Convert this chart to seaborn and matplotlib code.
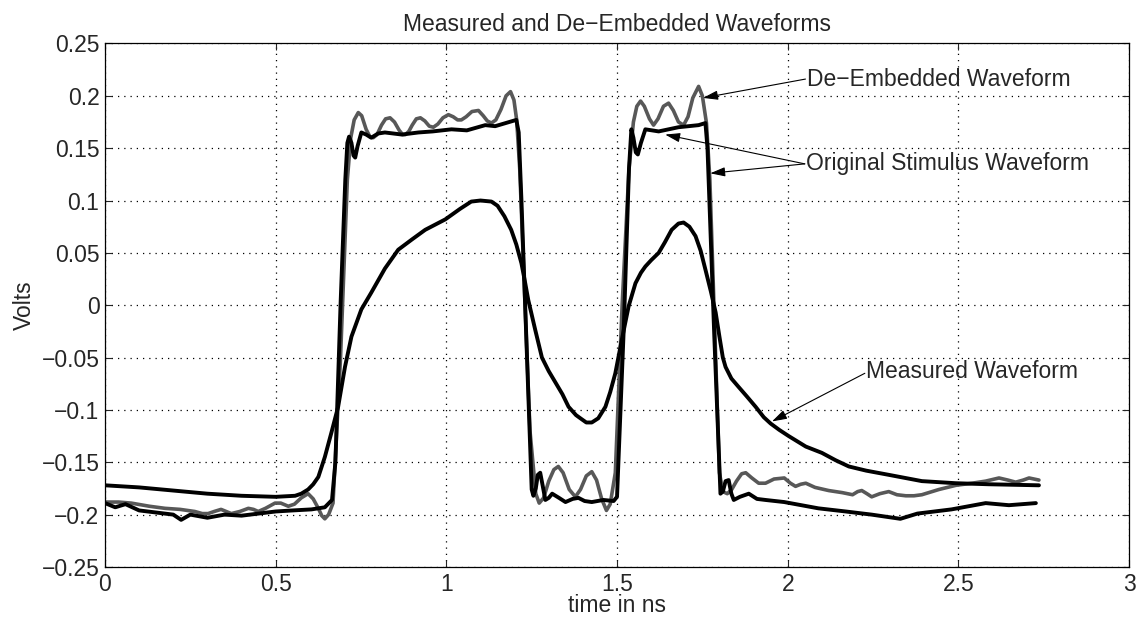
import numpy as np
import pandas as pd
import matplotlib
matplotlib.use("Agg")
import matplotlib.pyplot as plt
import seaborn as sns

# ---- data (time in ns, volts) ----
t_meas = [0.0, 0.1, 0.2, 0.3, 0.4, 0.5, 0.557, 0.575, 0.595, 0.61, 0.625, 0.644,
          0.663, 0.683, 0.703, 0.722, 0.751, 0.78, 0.82, 0.859, 0.90, 0.938,
          0.997, 1.04, 1.073, 1.10, 1.132, 1.15, 1.17, 1.19, 1.205, 1.22, 1.23,
          1.24, 1.26, 1.28, 1.30, 1.32, 1.34, 1.358, 1.38, 1.397, 1.41, 1.426,
          1.445, 1.466, 1.48, 1.495, 1.514, 1.534, 1.554, 1.57, 1.583, 1.60,
          1.622, 1.64, 1.66, 1.68, 1.695, 1.712, 1.73, 1.745, 1.759, 1.775,
          1.789, 1.80, 1.81, 1.818, 1.835, 1.856, 1.88, 1.906, 1.93, 1.95,
          1.975, 2.003, 2.053, 2.1, 2.14, 2.179, 2.23, 2.296, 2.393, 2.492,
          2.589, 2.736]
v_meas = [-0.172, -0.174, -0.177, -0.180, -0.182, -0.183, -0.182, -0.180, -0.176,
          -0.171, -0.164, -0.145, -0.122, -0.097, -0.059, -0.030, -0.004, 0.012,
          0.035, 0.053, 0.063, 0.072, 0.082, 0.092, 0.099, 0.100, 0.099, 0.095,
          0.085, 0.072, 0.058, 0.040, 0.023, 0.005, -0.023, -0.050, -0.063,
          -0.074, -0.085, -0.097, -0.105, -0.109, -0.112, -0.112, -0.108, -0.097,
          -0.083, -0.065, -0.033, -0.001, 0.021, 0.031, 0.037, 0.043, 0.050,
          0.060, 0.072, 0.078, 0.079, 0.075, 0.066, 0.052, 0.034, 0.013, -0.007,
          -0.030, -0.050, -0.059, -0.070, -0.078, -0.087, -0.097, -0.107, -0.113,
          -0.119, -0.125, -0.135, -0.141, -0.148, -0.154, -0.158, -0.162, -0.168,
          -0.170, -0.171, -0.172]

t_stim = [0.0, 0.03, 0.06, 0.1, 0.15, 0.2, 0.223, 0.25, 0.3, 0.35, 0.4, 0.45, 0.5,
          0.55, 0.605, 0.644, 0.665, 0.675, 0.69, 0.704, 0.71, 0.715, 0.722, 0.728,
          0.733, 0.74, 0.751, 0.765, 0.78, 0.80, 0.82, 0.87, 0.918, 0.96, 1.015,
          1.06, 1.114, 1.143, 1.205, 1.212, 1.22, 1.25, 1.255, 1.262, 1.268, 1.275,
          1.282, 1.29, 1.30, 1.31, 1.33, 1.349, 1.37, 1.387, 1.405, 1.426, 1.46,
          1.49, 1.50, 1.52, 1.535, 1.542, 1.548, 1.555, 1.561, 1.57, 1.583, 1.622,
          1.68, 1.739, 1.759, 1.765, 1.785, 1.803, 1.81, 1.818, 1.827, 1.835,
          1.842, 1.86, 1.886, 1.91, 1.935, 1.99, 2.09, 2.17, 2.246, 2.33, 2.38,
          2.48, 2.58, 2.648, 2.727]
v_stim = [-0.189, -0.193, -0.190, -0.196, -0.198, -0.200, -0.205, -0.200, -0.203,
          -0.200, -0.201, -0.199, -0.197, -0.196, -0.195, -0.193, -0.186, -0.150,
          0.000, 0.120, 0.155, 0.161, 0.155, 0.143, 0.141, 0.152, 0.165, 0.163,
          0.160, 0.164, 0.165, 0.163, 0.165, 0.166, 0.168, 0.167, 0.172, 0.171,
          0.177, 0.165, 0.100, -0.176, -0.182, -0.175, -0.162, -0.160, -0.172,
          -0.186, -0.184, -0.180, -0.184, -0.188, -0.185, -0.184, -0.187, -0.188,
          -0.186, -0.187, -0.183, -0.020, 0.130, 0.168, 0.160, 0.146, 0.144,
          0.155, 0.168, 0.166, 0.170, 0.172, 0.174, 0.150, -0.030, -0.180, -0.178,
          -0.168, -0.167, -0.180, -0.186, -0.183, -0.180, -0.185, -0.186, -0.188,
          -0.194, -0.197, -0.200, -0.204, -0.199, -0.195, -0.189, -0.191, -0.189]

t_deemb = [0.0, 0.04, 0.077, 0.13, 0.176, 0.22, 0.263, 0.285, 0.302, 0.32, 0.34,
           0.355, 0.37, 0.395, 0.42, 0.435, 0.449, 0.47, 0.498, 0.515, 0.537,
           0.555, 0.575, 0.595, 0.61, 0.625, 0.635, 0.644, 0.655, 0.668, 0.69,
           0.71, 0.72, 0.73, 0.742, 0.752, 0.765, 0.776, 0.786, 0.797, 0.81,
           0.822, 0.835, 0.848, 0.862, 0.872, 0.88, 0.89, 0.90, 0.912, 0.924,
           0.937, 0.95, 0.962, 0.975, 0.99, 1.006, 1.02, 1.033, 1.044, 1.058,
           1.075, 1.094, 1.108, 1.12, 1.132, 1.145, 1.16, 1.175, 1.188, 1.198,
           1.206, 1.215, 1.245, 1.262, 1.272, 1.285, 1.30, 1.315, 1.328, 1.342,
           1.36, 1.378, 1.393, 1.41, 1.426, 1.44, 1.455, 1.469, 1.48, 1.495,
           1.515, 1.535, 1.548, 1.558, 1.569, 1.58, 1.595, 1.607, 1.62, 1.636,
           1.651, 1.665, 1.68, 1.695, 1.708, 1.722, 1.739, 1.75, 1.762, 1.772,
           1.80, 1.81, 1.823, 1.836, 1.85, 1.865, 1.877, 1.895, 1.915, 1.935,
           1.96, 1.99, 2.008, 2.023, 2.038, 2.053, 2.08, 2.12, 2.16, 2.19, 2.205,
           2.217, 2.232, 2.246, 2.27, 2.296, 2.32, 2.346, 2.37, 2.393, 2.443,
           2.493, 2.54, 2.58, 2.619, 2.645, 2.668, 2.69, 2.707, 2.736]
v_deemb = [-0.188, -0.188, -0.189, -0.192, -0.194, -0.195, -0.197, -0.199, -0.199,
           -0.197, -0.195, -0.197, -0.199, -0.197, -0.194, -0.195, -0.197, -0.194,
           -0.189, -0.189, -0.192, -0.190, -0.184, -0.180, -0.185, -0.194, -0.201,
           -0.204, -0.200, -0.189, -0.050, 0.120, 0.160, 0.177, 0.184, 0.181,
           0.168, 0.161, 0.160, 0.163, 0.172, 0.178, 0.179, 0.175, 0.167, 0.163,
           0.163, 0.166, 0.172, 0.178, 0.179, 0.176, 0.171, 0.170, 0.173, 0.179,
           0.182, 0.180, 0.177, 0.177, 0.180, 0.185, 0.186, 0.181, 0.176, 0.174,
           0.177, 0.187, 0.200, 0.204, 0.196, 0.177, 0.130, -0.120, -0.180,
           -0.189, -0.184, -0.168, -0.157, -0.154, -0.160, -0.176, -0.183, -0.176,
           -0.163, -0.159, -0.167, -0.185, -0.196, -0.190, -0.160, 0.000, 0.130,
           0.175, 0.190, 0.195, 0.190, 0.178, 0.172, 0.178, 0.190, 0.193, 0.186,
           0.175, 0.172, 0.180, 0.198, 0.209, 0.200, 0.174, 0.120, -0.160, -0.178,
           -0.180, -0.176, -0.168, -0.161, -0.160, -0.165, -0.170, -0.170, -0.166,
           -0.165, -0.170, -0.173, -0.171, -0.170, -0.174, -0.177, -0.179, -0.181,
           -0.178, -0.177, -0.180, -0.183, -0.180, -0.178, -0.181, -0.182, -0.182,
           -0.181, -0.176, -0.172, -0.170, -0.168, -0.165, -0.167, -0.169, -0.167,
           -0.165, -0.167]

x_ticks = [0, 0.5, 1, 1.5, 2, 2.5, 3]
y_ticks = [-0.25, -0.2, -0.15, -0.1, -0.05, 0, 0.05, 0.1, 0.15, 0.2, 0.25]

sns.set_style("ticks")
plt.rcParams['font.family'] = ['Liberation Sans', 'DejaVu Sans']
FS = 16.5

fig = plt.figure(figsize=(11.4, 6.21), dpi=100)
ax = fig.add_axes([0.0921, 0.087, 0.8983, 0.843])

df_d = pd.DataFrame({'t': t_deemb, 'v': v_deemb})
df_s = pd.DataFrame({'t': t_stim, 'v': v_stim})
df_m = pd.DataFrame({'t': t_meas, 'v': v_meas})

line_kw = dict(sort=False, estimator=None, solid_joinstyle='round',
               solid_capstyle='round')
sns.lineplot(data=df_d, x='t', y='v', ax=ax, color='#585858', lw=2.6, **line_kw)
sns.lineplot(data=df_s, x='t', y='v', ax=ax, color='black', lw=2.8, **line_kw)
sns.lineplot(data=df_m, x='t', y='v', ax=ax, color='black', lw=2.8, **line_kw)

ax.set_xlim(0, 3)
ax.set_ylim(-0.25, 0.25)
ax.set_xticks(x_ticks)
ax.set_xticklabels(['0', '0.5', '1', '1.5', '2', '2.5', '3'])
ax.set_yticks(y_ticks)
ax.set_yticklabels(['\u22120.25', '\u22120.2', '\u22120.15', '\u22120.1', '\u22120.05',
                    '0', '0.05', '0.1', '0.15', '0.2', '0.25'])
ax.tick_params(direction='in', top=True, right=True, labelsize=FS, length=5,
               width=0.8, pad=4)
ax.grid(True, linestyle=(0, (1, 4)), color='black', lw=0.9)
for s in ax.spines.values():
    s.set_linewidth(0.9)
    s.set_color('black')

ax.set_xlabel('time in ns', fontsize=FS, labelpad=-1)
ax.set_ylabel('Volts', fontsize=FS, labelpad=4)
ax.set_title('Measured and De\u2212Embedded Waveforms', fontsize=FS, pad=9)

# annotations
arrow = dict(arrowstyle='-|>,head_length=0.9,head_width=0.28', color='black',
             lw=0.8, shrinkA=0, shrinkB=0)
ax.annotate('', xy=(1.752, 0.198), xytext=(2.052, 0.216), arrowprops=arrow)
ax.annotate('', xy=(1.641, 0.163), xytext=(2.05, 0.135), arrowprops=arrow)
ax.annotate('', xy=(1.773, 0.126), xytext=(2.05, 0.135), arrowprops=arrow)
ax.annotate('', xy=(1.954, -0.111), xytext=(2.226, -0.065), arrowprops=arrow)
ax.text(2.056, 0.216, 'De\u2212Embedded Waveform', fontsize=FS, ha='left', va='center')
ax.text(2.054, 0.135, 'Original Stimulus Waveform', fontsize=FS, ha='left', va='center')
ax.text(2.23, -0.0637, 'Measured Waveform', fontsize=FS, ha='left', va='center')

fig.savefig('out.png', dpi=100)
